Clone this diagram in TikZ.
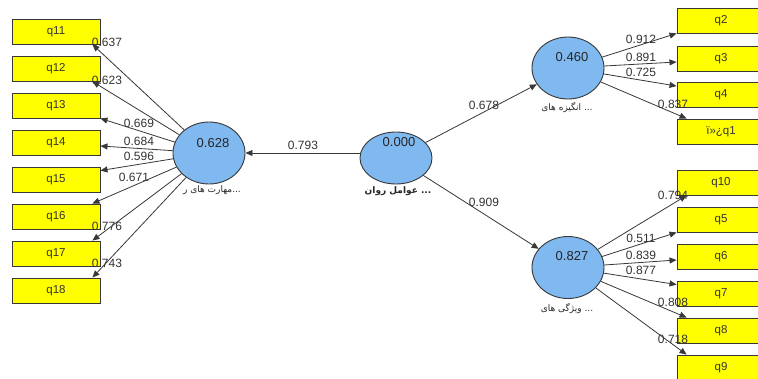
\documentclass[tikz,border=0pt]{standalone}
\usepackage{fontspec}
\setmainfont{Liberation Sans}
\newfontfamily\arfont[Script=Arabic]{DejaVu Sans}
\TeXXeTstate=1
\usetikzlibrary{shapes.geometric,arrows.meta}
\definecolor{boxyellow}{HTML}{FFFF00}
\definecolor{lvblue}{HTML}{80B8F0}
\definecolor{edgegray}{HTML}{383838}
\begin{document}
\begin{tikzpicture}[x=1pt,y=-1pt,
  ind/.style={draw=edgegray, line width=0.9pt, fill=boxyellow, minimum width=88pt, minimum height=25pt, inner sep=0pt, font=\fontsize{11.5}{12}\selectfont, text=black!80},
  lv/.style={ellipse, draw=edgegray, line width=0.9pt, fill=lvblue, minimum width=72pt, minimum height=62pt, inner sep=0pt},
  val/.style={font=\fontsize{13}{14}\selectfont, text=black!85, inner sep=0pt},
  ld/.style={font=\fontsize{12}{13}\selectfont, text=black!80, inner sep=0pt},
  arr/.style={draw=edgegray, line width=0.8pt, -{Triangle[length=7pt,width=6pt]}},
  lvname/.style={font=\arfont\fontsize{9}{10}\selectfont, text=black!85, inner sep=0pt}
]
\fill[white] (0,0) rectangle (758,378);
\useasboundingbox (0,0) rectangle (758,378);

% left indicators
\node[ind] (q11) at (56,31.5) {q11};
\node[ind] (q12) at (56,68.5) {q12};
\node[ind] (q13) at (56,105.5) {q13};
\node[ind] (q14) at (56,142.5) {q14};
\node[ind] (q15) at (56,179.5) {q15};
\node[ind] (q16) at (56,216.5) {q16};
\node[ind] (q17) at (56,253.5) {q17};
\node[ind] (q18) at (56,290.5) {q18};

% right top indicators
\node[ind] (q2) at (721,20.5) {q2};
\node[ind] (q3) at (721,58.5) {q3};
\node[ind] (q4) at (721,95) {q4};
\node[ind] (q1) at (721,131.5) {ï»¿q1};

% right bottom indicators
\node[ind] (q10) at (721,182.5) {q10};
\node[ind] (q5) at (721,219.5) {q5};
\node[ind] (q6) at (721,256.5) {q6};
\node[ind] (q7) at (721,293.5) {q7};
\node[ind] (q8) at (721,330.5) {q8};
\node[ind] (q9) at (721,367.5) {q9};

% latent variables
\node[lv] (c628) at (209,153) {};
\node[lv, minimum height=52pt] (c000) at (396,158) {};
\node[lv] (c460) at (568,68) {};
\node[lv] (c827) at (568,267.5) {};

\node[val] (v628) at (213,143) {0.628};
\node[val] (v000) at (399,142) {0.000};
\node[val] (v460) at (572,57) {0.460};
\node[val] (v827) at (572,256) {0.827};

\node[lvname] (n628) at (212,190) {\beginR مهارت های ر\endR...};
\node[lvname, font=\arfont\bfseries\fontsize{9}{10}\selectfont] (n000) at (398,191) {\beginR عوامل روان\endR{} ...};
\node[lvname] (n460) at (567,108) {\beginR انگیزه های\endR{} ...};
\node[lvname] (n827) at (567,309) {\beginR ویژگی های\endR{} ...};

% loading labels
\node[ld] (l11) at (107,42) {0.637};
\node[ld] (l12) at (107,80) {0.623};
\node[ld] (l13) at (139,123) {0.669};
\node[ld] (l14) at (139,141) {0.684};
\node[ld] (l15) at (139,156) {0.596};
\node[ld] (l16) at (134,177) {0.671};
\node[ld] (l17) at (107,226) {0.776};
\node[ld] (l18) at (107,263) {0.743};
\node[ld] (p1) at (303,145) {0.793};
\node[ld] (p2) at (484,105) {0.678};
\node[ld] (p3) at (484,202) {0.909};
\node[ld] (l2) at (641,39) {0.912};
\node[ld] (l3) at (641,57) {0.891};
\node[ld] (l4) at (641,72) {0.725};
\node[ld] (l1) at (673,104) {0.837};
\node[ld] (l10) at (673,195) {0.794};
\node[ld] (l5) at (641,238) {0.511};
\node[ld] (l6) at (641,255) {0.839};
\node[ld] (l7) at (641,270) {0.877};
\node[ld] (l8) at (673,302) {0.808};
\node[ld] (l9) at (673,339) {0.718};

% structural paths
\draw[arr] (c000.west |- c628.center) -- (c628.east);
\draw[arr] (c000) -- (c460);
\draw[arr] (c000) -- (c827);

% left loadings
\draw[arr] (c628) -- ([xshift=-8pt]q11.south east);
\draw[arr] (c628) -- ([xshift=-8pt]q12.south east);
\draw[arr] (c628) -- (q13.south east);
\draw[arr] (c628) -- ([yshift=-3.5pt]q14.east);
\draw[arr] (c628) -- ([yshift=-4pt]q15.north east);
\draw[arr] (c628) -- ([xshift=-8pt]q16.north east);
\draw[arr] (c628) -- ([xshift=-8pt]q17.north east);
\draw[arr] (c628) -- ([xshift=-8pt]q18.north east);

% right top loadings
\draw[arr] (c460) -- (q2.south west);
\draw[arr] (c460) -- ([yshift=-3.5pt]q3.west);
\draw[arr] (c460) -- ([yshift=-4pt]q4.north west);
\draw[arr] (c460) -- ([xshift=10pt]q1.north west);

% right bottom loadings
\draw[arr] (c827) -- ([xshift=10pt]q10.south west);
\draw[arr] (c827) -- (q5.south west);
\draw[arr] (c827) -- ([yshift=-3.5pt]q6.west);
\draw[arr] (c827) -- ([yshift=-4pt]q7.north west);
\draw[arr] (c827) -- ([xshift=10pt]q8.north west);
\draw[arr] (c827) -- ([xshift=10pt]q9.north west);
\end{tikzpicture}
\end{document}
